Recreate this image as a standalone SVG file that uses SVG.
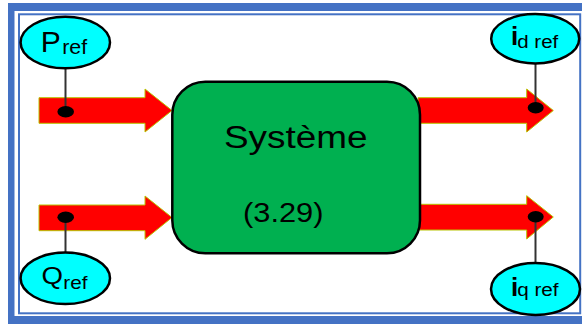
<svg xmlns="http://www.w3.org/2000/svg" width="582" height="324" viewBox="0 0 582 324">
  <style>
    .frame-band { fill: #4472C4; }
    .frame-line { fill: none; stroke: #4472C4; stroke-width: 2; }
    .signal { fill: #FF0000; stroke: #B8C400; stroke-width: 1; }
    .block { fill: #00B050; stroke: #000000; stroke-width: 2.5; }
    .tag { fill: #00FFFF; stroke: #000000; stroke-width: 2.5; }
    .leader { stroke: #333333; stroke-width: 2; }
    .pin { fill: #000000; }
    .txt { font-family: "Liberation Sans", Arial, sans-serif; fill: #000000; }
    .bold { font-weight: bold; }
  </style>

  <!-- double blue frame -->
  <rect class="frame-band" x="8" y="3" width="600" height="340"/>
  <rect x="14.5" y="11" width="580" height="305" fill="#FFFFFF"/>
  <rect class="frame-line" x="19" y="14.3" width="561.2" height="299"/>

  <!-- signal arrows and label leaders -->
  <g id="connectors">
    <polygon class="signal" points="39,97.7 145,97.7 145,89 172,110.5 145,132 145,123.3 39,123.3"/>
    <polygon class="signal" points="39,205 145,205 145,196 172,217.5 145,239.3 145,230.7 39,230.7"/>
    <polygon class="signal" points="418,97.7 526.7,97.7 526.7,89 553.3,110.5 526.7,132 526.7,123.3 418,123.3"/>
    <polygon class="signal" points="418,204.3 526.7,204.3 526.7,195.7 553.3,217 526.7,239 526.7,230 418,230"/>

    <line class="leader" x1="65.5" y1="67" x2="65.5" y2="111.5"/>
    <ellipse class="pin" cx="65.7" cy="111.7" rx="8.3" ry="5.7"/>

    <line class="leader" x1="65.5" y1="217.3" x2="65.5" y2="252.5"/>
    <ellipse class="pin" cx="65.7" cy="217.3" rx="8.3" ry="5.7"/>

    <line class="leader" x1="535.5" y1="62" x2="535.5" y2="107.7"/>
    <ellipse class="pin" cx="535.7" cy="107.7" rx="8" ry="5.7"/>

    <line class="leader" x1="535.5" y1="216.7" x2="535.5" y2="263.5"/>
    <ellipse class="pin" cx="535.7" cy="216.7" rx="8" ry="5.7"/>
  </g>

  <!-- central block -->
  <g id="systeme">
    <rect class="block" x="172.3" y="81.7" width="247.7" height="171.6" rx="33" ry="33"/>
    <!-- labels widened horizontally -->
    <text class="txt" font-size="31" transform="translate(224 148.3) scale(1.19 1)">Système</text>
    <text class="txt" font-size="28" transform="translate(243 221.7) scale(1.1 1)">(3.29)</text>
  </g>

  <!-- reference labels -->
  <g id="p-ref">
    <ellipse class="tag" cx="65.3" cy="42.5" rx="44.7" ry="25.8"/>
    <text class="txt" x="40.8" y="51.7" font-size="30">P</text>
    <text class="txt" font-size="20" transform="translate(62.2 53.5) scale(1.07 1)">ref</text>
  </g>

  <g id="q-ref">
    <ellipse class="tag" cx="65.3" cy="278.3" rx="44.7" ry="25.7"/>
    <text class="txt" font-size="23" transform="translate(41.5 283.5) scale(1.2 1)">Q</text>
    <text class="txt" font-size="18" transform="translate(63.3 289.3) scale(1.15 1)">ref</text>
  </g>

  <g id="id-ref">
    <ellipse class="tag" cx="535.2" cy="38.7" rx="44" ry="24.7"/>
    <text class="txt bold" x="511" y="45.3" font-size="26">i</text>
    <text class="txt" font-size="19" transform="translate(517.2 48) scale(1.08 1)">d ref</text>
  </g>

  <g id="iq-ref">
    <ellipse class="tag" cx="535.5" cy="289" rx="44.5" ry="26"/>
    <text class="txt bold" x="511" y="296" font-size="26">i</text>
    <text class="txt" font-size="19" transform="translate(517.2 296) scale(1.09 1)">q ref</text>
  </g>
</svg>
